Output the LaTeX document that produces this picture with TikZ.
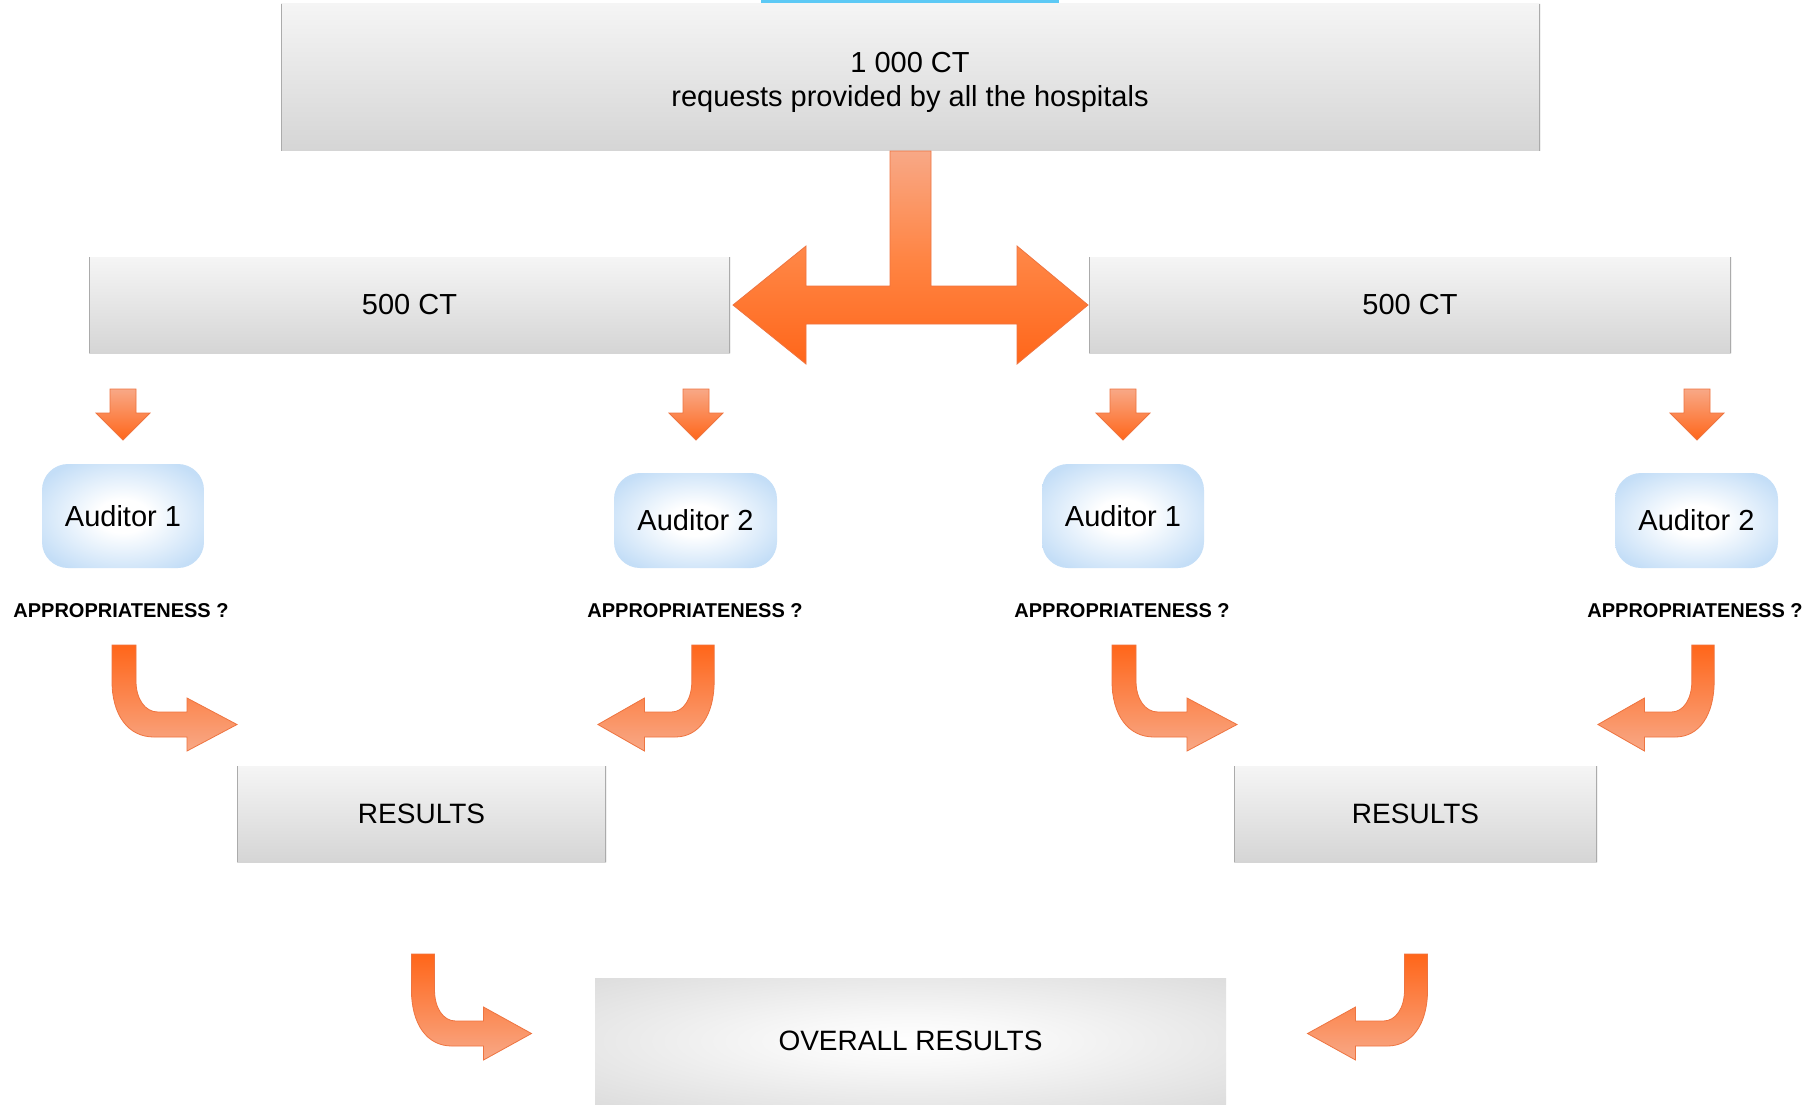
\documentclass[tikz,border=0pt]{standalone}
\usepackage{fontspec}
\setmainfont{Liberation Sans}
\definecolor{boxtop}{HTML}{F5F5F5}
\definecolor{boxbot}{HTML}{D5D5D5}
\definecolor{boxedge}{HTML}{ABABAB}
\definecolor{audblue}{HTML}{C4DEF7}
\definecolor{ovgray}{HTML}{CECECE}
\definecolor{ordark}{HTML}{FF661A}
\definecolor{orlight}{HTML}{F8A886}
\definecolor{ormid}{HTML}{FF8544}
\definecolor{oredge}{HTML}{EE7440}
\definecolor{cyanbar}{HTML}{5CC9F5}
\pgfdeclareradialshading{audshade}{\pgfpoint{0bp}{0bp}}{color(0bp)=(white); color(8bp)=(white); color(30bp)=(audblue); color(50bp)=(audblue)}
\pgfdeclareradialshading{ovshade}{\pgfpoint{0bp}{0bp}}{color(0bp)=(white); color(10bp)=(white!97!black); color(50bp)=(ovgray)}
\begin{document}
\begin{tikzpicture}[x=1pt,y=-1pt,
  graybox/.style={rectangle, inner sep=0, top color=boxtop, bottom color=boxbot,
    path picture={\draw[boxedge, line width=1.6pt]
      (path picture bounding box.north west) -- (path picture bounding box.south west)
      (path picture bounding box.north east) -- (path picture bounding box.south east);}},
  bigtxt/.style={font=\fontsize{29}{34}\selectfont},
  restxt/.style={font=\fontsize{28}{32}\selectfont},
  audbox/.style={rectangle, rounded corners=26pt, inner sep=0, shade, shading=audshade,
    font=\fontsize{29}{32}\selectfont},
  apptxt/.style={inner sep=0, font=\fontsize{20}{24}\selectfont\bfseries},
  ovbox/.style={rectangle, inner sep=0, shade, shading=ovshade, font=\fontsize{28}{32}\selectfont},
  arrdown/.style={top color=orlight, bottom color=ordark, draw=oredge, line width=0.8pt},
  arrcurve/.style={top color=ordark, bottom color=orlight, draw=oredge, line width=0.8pt},
  arrtee/.style={top color=orlight, bottom color=ordark, middle color=ormid, draw=oredge, line width=0.8pt},
  downarr/.pic={\path[arrdown] (-13,0) -- (13,0) -- (13,24) -- (27,24) -- (0,51) -- (-27,24) -- (-13,24) -- cycle;},
  curvarr/.pic={\path[arrcurve] (-12,0) -- (12,0) -- (12,36) .. controls (12,54) and (21,67) .. (34,67)
     -- (63,67) -- (63,53) -- (113,79.5) -- (63,106) -- (63,92) -- (30,92)
     .. controls (4,92) and (-12,70) .. (-12,36) -- cycle;}
]
\useasboundingbox (0,0) rectangle (1814,1104);
\fill[white] (0,0) rectangle (1814,1104);
\fill[cyanbar] (761,0) rectangle (1059,2.5);

% boxes
\node[graybox, minimum width=1259, minimum height=147] (top) at (910.5,77) {};
\node[bigtxt, align=center, inner sep=0] (toptext) at (910,82) {1 000 CT\\requests provided by all the hospitals};

\node[graybox, bigtxt, minimum width=641, minimum height=96] (ctL) at (409.5,305) {500 CT};
\node[graybox, bigtxt, minimum width=642, minimum height=96] (ctR) at (1410,305) {500 CT};

\node[audbox, minimum width=162, minimum height=104] (a1L) at (123,516) {Auditor 1};
\node[audbox, minimum width=163, minimum height=95] (a2L) at (695.5,520.5) {Auditor 2};
\node[audbox, minimum width=162, minimum height=104] (a1R) at (1123,516) {Auditor 1};
\node[audbox, minimum width=163, minimum height=95] (a2R) at (1696.5,520.5) {Auditor 2};

\node[apptxt] (q1L) at (121,611) {APPROPRIATENESS ?};
\node[apptxt] (q2L) at (695,611) {APPROPRIATENESS ?};
\node[apptxt] (q1R) at (1122,611) {APPROPRIATENESS ?};
\node[apptxt] (q2R) at (1695,611) {APPROPRIATENESS ?};

\node[graybox, restxt, minimum width=369, minimum height=96] (resL) at (421.5,814) {RESULTS};
\node[graybox, restxt, minimum width=363, minimum height=96] (resR) at (1415.5,814) {RESULTS};

\node[ovbox, minimum width=631, minimum height=126] (overall) at (910.5,1041) {OVERALL RESULTS};

% tee arrow
\path[arrtee] (890,151) -- (931,151) -- (931,286) -- (1017,286) -- (1017,246) -- (1088,305)
  -- (1017,364) -- (1017,324) -- (806,324) -- (806,364) -- (733,305) -- (806,246)
  -- (806,286) -- (890,286) -- cycle;

% small down arrows
\pic at (123,389) {downarr};
\pic at (696,389) {downarr};
\pic at (1123,389) {downarr};
\pic at (1697,389) {downarr};

% curved arrows
\pic at (124,645) {curvarr};
\pic[xscale=-0.93] at (703,645) {curvarr};
\pic at (1124,645) {curvarr};
\pic[xscale=-0.93] at (1703,645) {curvarr};
\pic[xscale=0.96] at (423,954) {curvarr};
\pic[xscale=-0.96] at (1416,954) {curvarr};
\end{tikzpicture}
\end{document}
